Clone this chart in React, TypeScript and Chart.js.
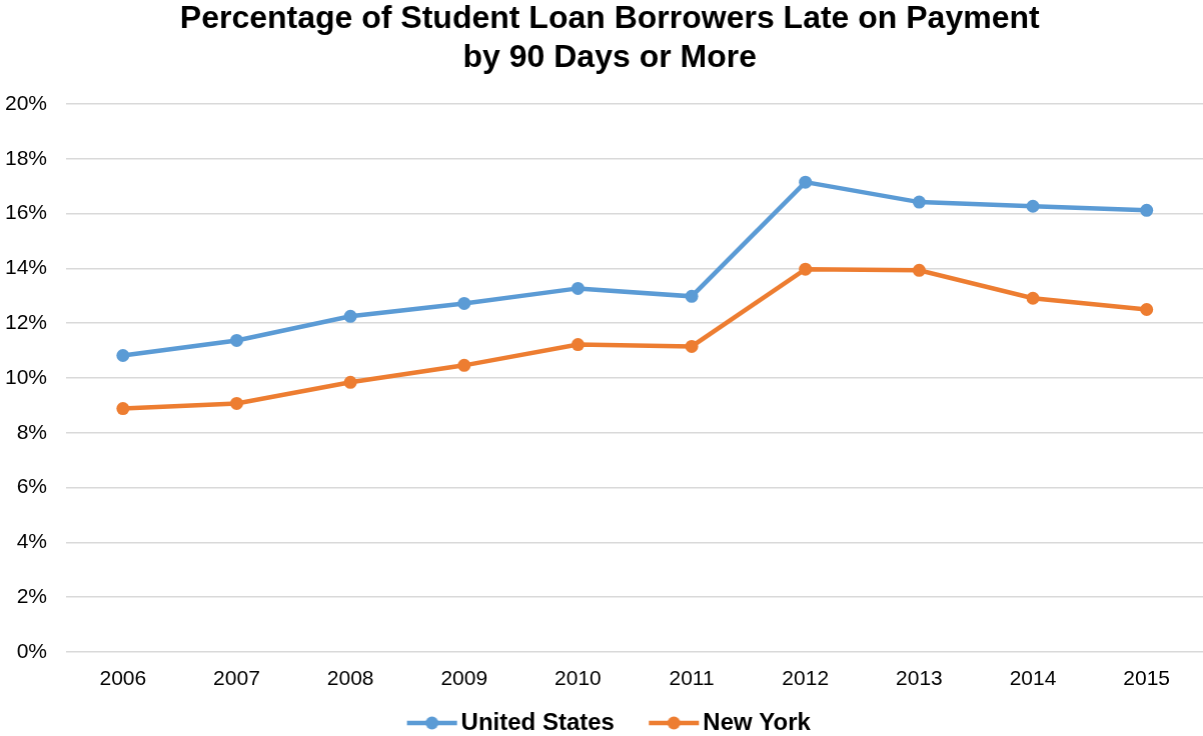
import React, { useEffect, useRef } from "react";
import { Chart, registerables } from "chart.js";

Chart.register(...registerables);

const years = ["2006", "2007", "2008", "2009", "2010", "2011", "2012", "2013", "2014", "2015"];
const unitedStates = [10.82, 11.37, 12.25, 12.72, 13.27, 12.98, 17.15, 16.42, 16.27, 16.12];
const newYork = [8.88, 9.07, 9.84, 10.46, 11.22, 11.15, 13.97, 13.93, 12.91, 12.5];
const titleLines = ["Percentage of Student Loan Borrowers Late on Payment", "by 90 Days or More"];
const seriesNames = ["United States", "New York"];

const BLUE = "#5B9BD5";
const ORANGE = "#ED7D31";
const FONT = "'Liberation Sans', Arial, sans-serif";
const CANVAS_W = 1209.5;
const CANVAS_H = 736;

function legendIcon(color: string): HTMLCanvasElement {
  // legend draws this centred at x + 20; line spans x-2 .. x+48
  const c = document.createElement("canvas");
  const w = 64, h = 16;
  c.width = w; c.height = h;
  const ctx = c.getContext("2d")!;
  ctx.strokeStyle = color;
  ctx.lineWidth = 4.5;
  ctx.beginPath();
  ctx.moveTo(10, h / 2);
  ctx.lineTo(60, h / 2);
  ctx.stroke();
  ctx.fillStyle = color;
  ctx.beginPath();
  ctx.arc(35, h / 2, 6.5, 0, Math.PI * 2);
  ctx.fill();
  return c;
}

export default function App() {
  const ref = useRef<HTMLCanvasElement | null>(null);
  useEffect(() => {
    document.body.style.margin = "0";
    document.body.style.overflow = "hidden";
    const icons = [legendIcon(BLUE), legendIcon(ORANGE)];
    const chart = new Chart(ref.current!, {
      type: "line",
      data: {
        labels: years,
        datasets: [
          {
            label: seriesNames[0],
            data: unitedStates,
            borderColor: BLUE,
            backgroundColor: BLUE,
            borderWidth: 4.5,
            pointRadius: 6.5,
            pointBackgroundColor: BLUE,
            pointBorderWidth: 0,
            tension: 0,
          },
          {
            label: seriesNames[1],
            data: newYork,
            borderColor: ORANGE,
            backgroundColor: ORANGE,
            borderWidth: 4.5,
            pointRadius: 6.5,
            pointBackgroundColor: ORANGE,
            pointBorderWidth: 0,
            tension: 0,
          },
        ],
      },
      options: {
        animation: false,
        responsive: false,
        maintainAspectRatio: false,
        layout: { padding: { left: 4, right: -5.5, top: 0, bottom: -9 } },
        plugins: {
          title: {
            display: true,
            text: titleLines,
            color: "#000",
            font: { family: FONT, size: 32, weight: "bold", lineHeight: 1.22 },
            padding: { top: 0, bottom: 26 },
          },
          legend: {
            position: "bottom",
            labels: {
              color: "#000",
              font: { family: FONT, size: 24, weight: "bold" },
              usePointStyle: true,
              pointStyleWidth: 40,
              boxWidth: 40,
              boxHeight: 16,
              padding: 3,
              generateLabels: (ch: any) =>
                ch.data.datasets.map((ds: any, i: number) => ({
                  text: i === 0 ? ds.label + "     " : ds.label,
                  fillStyle: ds.borderColor,
                  strokeStyle: ds.borderColor,
                  lineWidth: 0,
                  pointStyle: icons[i],
                  hidden: false,
                  datasetIndex: i,
                  fontColor: "#000",
                })),
            },
          },
          tooltip: { enabled: false },
        },
        scales: {
          x: {
            offset: true,
            grid: { display: false },
            border: { display: false },
            ticks: {
              color: "#000",
              font: { family: FONT, size: 21 },
              padding: 7,
            },
            afterFit: (scale: any) => {
              scale.paddingLeft = 0;
              scale.paddingRight = 0;
              scale.height += 9;
            },
          },
          y: {
            min: 0,
            max: 20,
            border: { display: false },
            grid: { color: "#d9d9d9", lineWidth: 1.5, drawTicks: false },
            ticks: {
              stepSize: 2,
              color: "#000",
              font: { family: FONT, size: 21 },
              padding: 19,
              callback: (v: any) => v + "%",
            },
            afterFit: (scale: any) => {
              scale.width = 62;
            },
          },
        },
      },
    });
    return () => chart.destroy();
  }, []);
  return (
    <div style={{ position: "absolute", left: 0, top: 0, width: 1203, height: 736, overflow: "hidden" }}>
      <canvas
        ref={ref}
        width={CANVAS_W}
        height={CANVAS_H}
        style={{ width: CANVAS_W, height: CANVAS_H, display: "block" }}
      />
    </div>
  );
}
